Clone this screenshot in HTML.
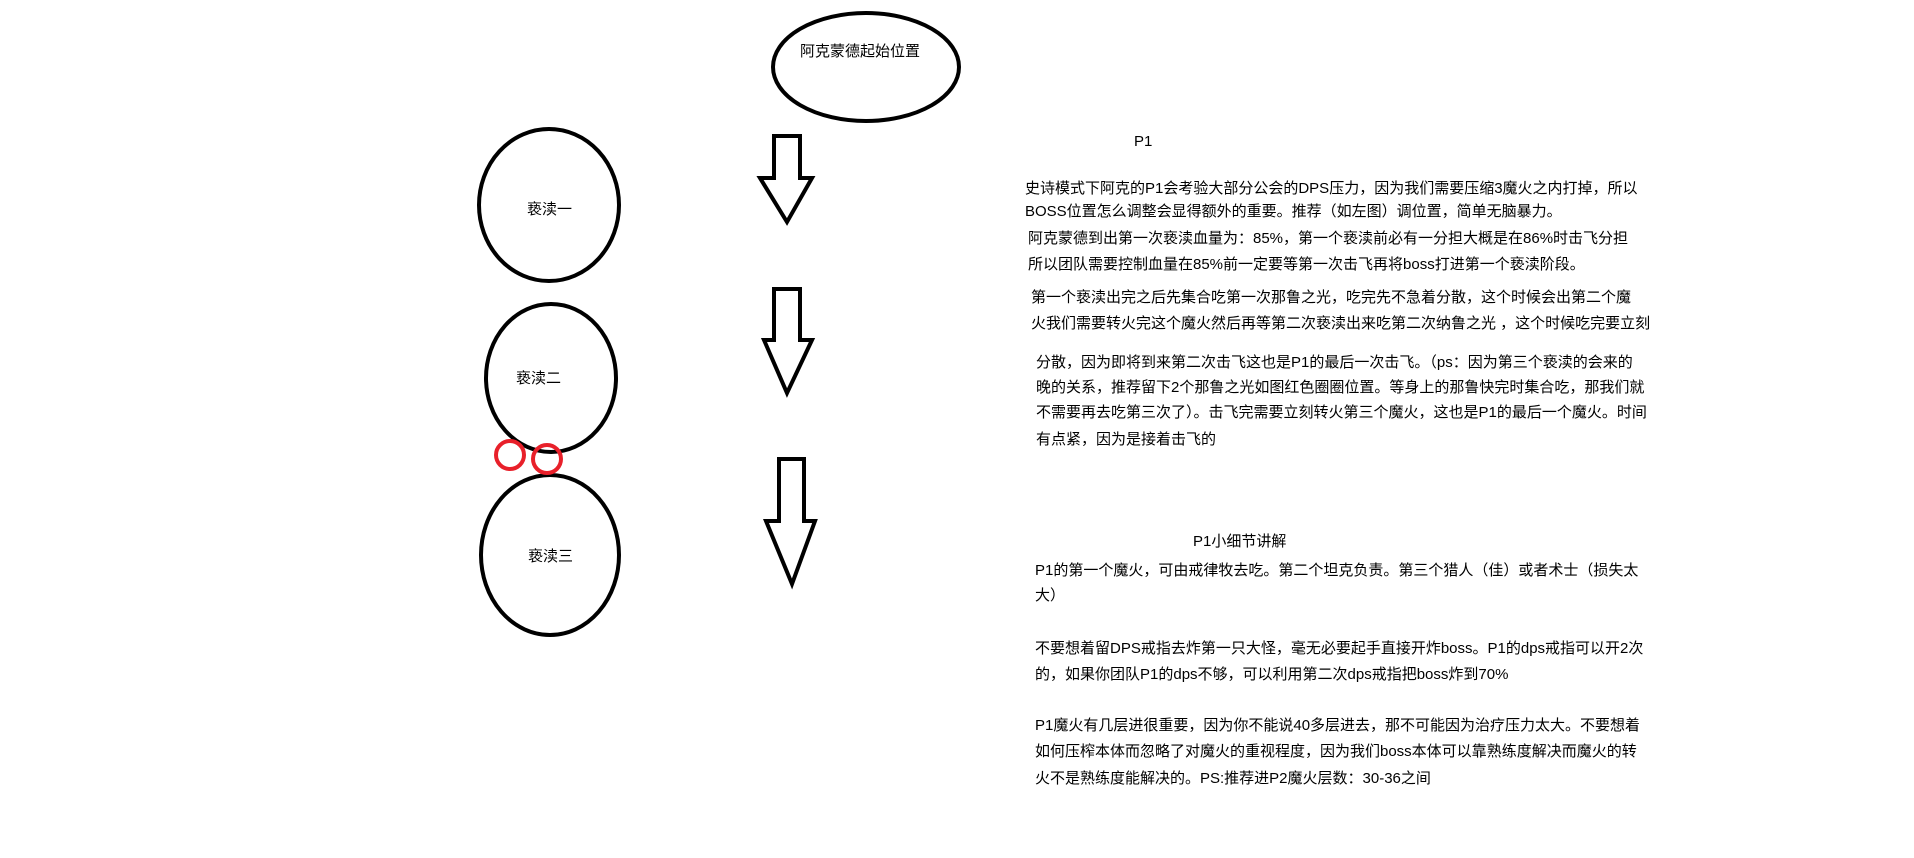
<!DOCTYPE html>
<html><head><meta charset="utf-8"><style>
html,body{margin:0;padding:0;background:#fff;width:1914px;height:858px;overflow:hidden;position:relative}
.t{position:absolute;white-space:nowrap;font-family:"Liberation Sans","Noto Sans CJK SC",sans-serif;font-size:15px;line-height:20px;color:#000}
svg{position:absolute;left:0;top:0}
</style></head><body>
<svg width="1914" height="858" viewBox="0 0 1914 858">
<g fill="none" stroke="#000" stroke-width="4">
<ellipse cx="866" cy="67" rx="93" ry="54"/>
<ellipse cx="549" cy="205" rx="70" ry="76"/>
<ellipse cx="551" cy="378" rx="65" ry="74"/>
<ellipse cx="550" cy="555" rx="69" ry="80"/>
<polygon points="774,136 800,136 800,178 812,178 787,222 760,178 774,178"/>
<polygon points="774,289 800,289 800,340 812,340 787,393 764,340 774,340"/>
<polygon points="779,459 804,459 804,521 815,521 792,584 766,521 779,521"/>
</g>
<g fill="none" stroke="#e8202a" stroke-width="4">
<circle cx="510" cy="455" r="14"/>
<circle cx="547" cy="459" r="14"/>
</g>
</svg>
<div class="t" style="left:800px;top:42px">阿克蒙德起始位置</div>
<div class="t" style="left:527px;top:200px">亵渎一</div>
<div class="t" style="left:516px;top:369px">亵渎二</div>
<div class="t" style="left:528px;top:547px">亵渎三</div>
<div class="t" style="left:1134px;top:132px">P1</div>
<div class="t" style="left:1025px;top:179px">史诗模式下阿克的P1会考验大部分公会的DPS压力，因为我们需要压缩3魔火之内打掉，所以</div>
<div class="t" style="left:1025px;top:202px">BOSS位置怎么调整会显得额外的重要。推荐（如左图）调位置，简单无脑暴力。</div>
<div class="t" style="left:1028px;top:229px">阿克蒙德到出第一次亵渎血量为：85%，第一个亵渎前必有一分担大概是在86%时击飞分担</div>
<div class="t" style="left:1028px;top:255px">所以团队需要控制血量在85%前一定要等第一次击飞再将boss打进第一个亵渎阶段。</div>
<div class="t" style="left:1031px;top:288px">第一个亵渎出完之后先集合吃第一次那鲁之光，吃完先不急着分散，这个时候会出第二个魔</div>
<div class="t" style="left:1031px;top:314px">火我们需要转火完这个魔火然后再等第二次亵渎出来吃第二次纳鲁之光 ，这个时候吃完要立刻</div>
<div class="t" style="left:1036px;top:353px">分散，因为即将到来第二次击飞这也是P1的最后一次击飞。（ps：因为第三个亵渎的会来的</div>
<div class="t" style="left:1036px;top:378px">晚的关系，推荐留下2个那鲁之光如图红色圈圈位置。等身上的那鲁快完时集合吃，那我们就</div>
<div class="t" style="left:1036px;top:403px">不需要再去吃第三次了）。击飞完需要立刻转火第三个魔火，这也是P1的最后一个魔火。时间</div>
<div class="t" style="left:1036px;top:430px">有点紧，因为是接着击飞的</div>
<div class="t" style="left:1193px;top:532px">P1小细节讲解</div>
<div class="t" style="left:1035px;top:561px">P1的第一个魔火，可由戒律牧去吃。第二个坦克负责。第三个猎人（佳）或者术士（损失太</div>
<div class="t" style="left:1035px;top:586px">大）</div>
<div class="t" style="left:1035px;top:639px">不要想着留DPS戒指去炸第一只大怪，毫无必要起手直接开炸boss。P1的dps戒指可以开2次</div>
<div class="t" style="left:1035px;top:665px">的，如果你团队P1的dps不够，可以利用第二次dps戒指把boss炸到70%</div>
<div class="t" style="left:1035px;top:716px">P1魔火有几层进很重要，因为你不能说40多层进去，那不可能因为治疗压力太大。不要想着</div>
<div class="t" style="left:1035px;top:742px">如何压榨本体而忽略了对魔火的重视程度，因为我们boss本体可以靠熟练度解决而魔火的转</div>
<div class="t" style="left:1035px;top:769px">火不是熟练度能解决的。PS:推荐进P2魔火层数：30-36之间</div>
</body></html>
